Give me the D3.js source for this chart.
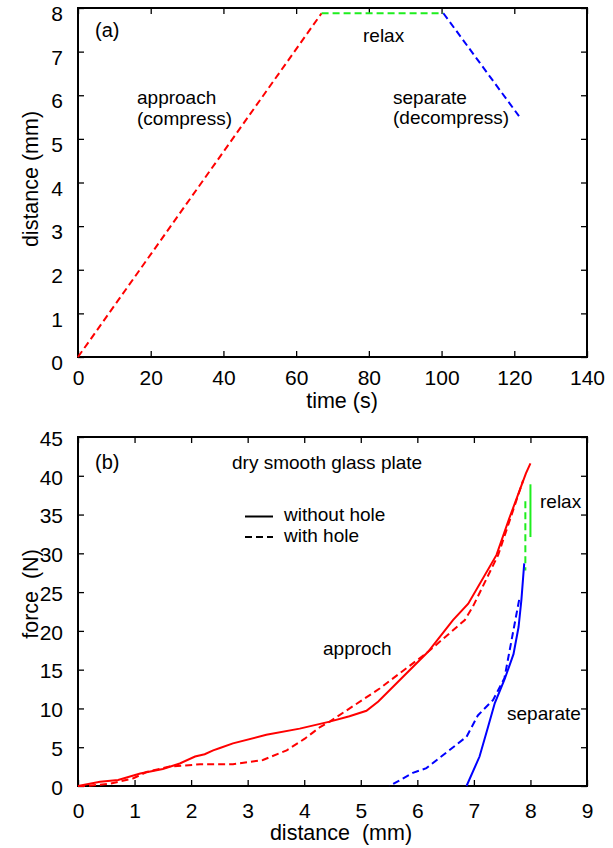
<!DOCTYPE html>
<html>
<head>
<meta charset="utf-8">
<script src="https://cdn.jsdelivr.net/npm/d3@7"></script>
<style>
body { margin: 0; background: #fff; }
text { font-family: "Liberation Sans", Arial, sans-serif; fill: #000; white-space: pre; }
</style>
</head>
<body>
<div id="chart"></div>
<script>
// ---- panel (a): distance vs time ----
var approachTime = [0, 67];
var approachDist = [0, 7.88];
var relaxTime = [67, 100.5];
var relaxDist = [7.88, 7.88];
var separateTime = [100.5, 121.3];
var separateDist = [7.88, 5.52];

var timeTicks = [0, 20, 40, 60, 80, 100, 120, 140];
var distTicks = [0, 1, 2, 3, 4, 5, 6, 7, 8];

// ---- panel (b): force vs distance, [distance mm, force N] ----
var noHoleApproach = [[0, 0], [0.39, 0.55], [0.71, 0.77], [1.1, 1.6], [1.5, 2.2], [1.8, 2.9],
    [2.07, 3.8], [2.24, 4.1], [2.39, 4.6], [2.51, 4.9], [2.74, 5.5], [3.33, 6.6], [3.92, 7.4],
    [4.45, 8.3], [4.8, 9.0], [5.1, 9.7], [5.31, 10.9], [6.19, 17.3], [6.63, 21.4], [6.9, 23.5],
    [7.4, 29.8], [7.63, 34.6], [7.92, 40.3], [8.0, 41.6]];
var holeApproach = [[0, 0], [0.15, 0], [0.57, 0.3], [0.98, 1.0], [1.21, 1.8], [1.62, 2.5],
    [2.16, 2.8], [2.74, 2.8], [3.27, 3.35], [3.69, 4.6], [4.01, 6.1], [4.28, 7.6], [4.45, 8.3],
    [5.34, 12.6], [6.19, 17.3], [6.84, 21.4], [6.98, 23.1], [7.43, 29.8], [7.87, 39.4]];
var noHoleRelax = [[8.0, 38.9], [8.0, 32.1]];
var holeRelax = [[7.91, 36.7], [7.91, 27.8]];
var noHoleSeparate = [[7.89, 28.7], [7.84, 24], [7.79, 20.5], [7.7, 17], [7.54, 13.7],
    [7.37, 10.7], [7.25, 7.6], [7.1, 3.8], [6.87, 0]];
var holeSeparate = [[7.8, 24], [7.54, 13.9], [7.34, 11.1], [7.07, 9.1], [6.87, 6.35],
    [6.16, 2.3], [5.92, 1.7], [5.51, 0]];

var sepTicks = [0, 1, 2, 3, 4, 5, 6, 7, 8, 9];
var forceTicks = [0, 5, 10, 15, 20, 25, 30, 35, 40, 45];

var RED = "#ff0000", GREEN = "#1eee1e", BLUE = "#0000ff";
var DASH = "7,4";
var FONT = "Liberation Sans, Arial, sans-serif";

var svg = d3.select("#chart").append("svg")
    .attr("width", 613)
    .attr("height", 848);

var xa = d3.scaleLinear().domain([0, 140]).range([78, 587]);
var ya = d3.scaleLinear().domain([0, 8]).range([357, 8]);
var xb = d3.scaleLinear().domain([0, 9]).range([78, 587]);
var yb = d3.scaleLinear().domain([0, 45]).range([786, 437]);

function styleAxis(g) {
    g.select(".domain").remove();
    g.attr("font-family", FONT).attr("font-size", 21);
    g.selectAll("line").attr("stroke", "#000").attr("stroke-width", 1.3);
}

function drawFrame(x, y, xTicks, yTicks, yLabelShift, xPad) {
    var left = x.range()[0], right = x.range()[1];
    var bottom = y.range()[0], top = y.range()[1];

    svg.append("g").attr("transform", "translate(0," + bottom + ")")
        .call(d3.axisBottom(x).tickValues(xTicks).tickSizeInner(-6).tickSizeOuter(0).tickPadding(xPad))
        .call(styleAxis);
    svg.append("g").attr("transform", "translate(0," + top + ")")
        .call(d3.axisTop(x).tickValues(xTicks).tickSizeInner(-6).tickSizeOuter(0).tickFormat(""))
        .call(styleAxis);
    svg.append("g").attr("transform", "translate(" + left + ",0)")
        .call(d3.axisLeft(y).tickValues(yTicks).tickSizeInner(-6).tickSizeOuter(0).tickPadding(15))
        .call(styleAxis)
        .selectAll("text").attr("y", yLabelShift);
    svg.append("g").attr("transform", "translate(" + right + ",0)")
        .call(d3.axisRight(y).tickValues(yTicks).tickSizeInner(-6).tickSizeOuter(0).tickFormat(""))
        .call(styleAxis);

    svg.append("rect")
        .attr("x", left).attr("y", top)
        .attr("width", right - left).attr("height", bottom - top)
        .attr("fill", "none").attr("stroke", "#000").attr("stroke-width", 2);
}

function drawLine(x, y, pts, color, dashed) {
    var line = d3.line().x(function(d) { return x(d[0]); }).y(function(d) { return y(d[1]); });
    svg.append("path")
        .datum(pts)
        .attr("d", line)
        .attr("fill", "none")
        .attr("stroke", color)
        .attr("stroke-width", 2)
        .attr("stroke-dasharray", dashed ? DASH : null);
}

function label(x, y, txt, size, anchor, rotate) {
    var t = svg.append("text")
        .attr("font-size", size)
        .attr("text-anchor", anchor || "start")
        .attr("xml:space", "preserve")
        .text(txt);
    if (rotate) {
        t.attr("transform", "translate(" + x + "," + y + ") rotate(-90)");
    } else {
        t.attr("x", x).attr("y", y);
    }
    return t;
}

// ---- panel (a) ----
drawFrame(xa, ya, timeTicks, distTicks, 6, 13);
drawLine(xa, ya, d3.zip(approachTime, approachDist), RED, true);
drawLine(xa, ya, d3.zip(relaxTime, relaxDist), GREEN, true);
drawLine(xa, ya, d3.zip(separateTime, separateDist), BLUE, true);

label(95, 37, "(a)", 20);
label(137, 104, "approach", 19);
label(137, 124.5, "(compress)", 19);
label(363, 42, "relax", 19);
label(393, 103.5, "separate", 19);
label(393, 124, "(decompress)", 19);
label(342, 408, "time (s)", 21.5, "middle");
label(37.5, 179, "distance (mm)", 21.5, "middle", true);

// ---- panel (b) ----
drawFrame(xb, yb, sepTicks, forceTicks, 1.5, 17);
drawLine(xb, yb, noHoleApproach, RED, false);
drawLine(xb, yb, holeApproach, RED, true);
drawLine(xb, yb, noHoleRelax, GREEN, false);
drawLine(xb, yb, holeRelax, GREEN, true);
drawLine(xb, yb, noHoleSeparate, BLUE, false);
drawLine(xb, yb, holeSeparate, BLUE, true);

label(95, 469, "(b)", 20);
label(232, 468.5, "dry smooth glass plate", 19);

// legend
svg.append("line").attr("x1", 245).attr("x2", 273).attr("y1", 516.5).attr("y2", 516.5)
    .attr("stroke", "#000").attr("stroke-width", 2);
svg.append("line").attr("x1", 245).attr("x2", 273).attr("y1", 537).attr("y2", 537)
    .attr("stroke", "#000").attr("stroke-width", 2).attr("stroke-dasharray", DASH);
label(284, 521, "without hole", 19);
label(284, 541.5, "with hole", 19);

label(323, 654.5, "approch", 19);
label(507, 719.5, "separate", 19);
label(540, 507.5, "relax", 19);
label(341, 840, "distance  (mm)", 21.5, "middle");
label(37.5, 594, "force  (N)", 21.5, "middle", true);
</script>
</body>
</html>
